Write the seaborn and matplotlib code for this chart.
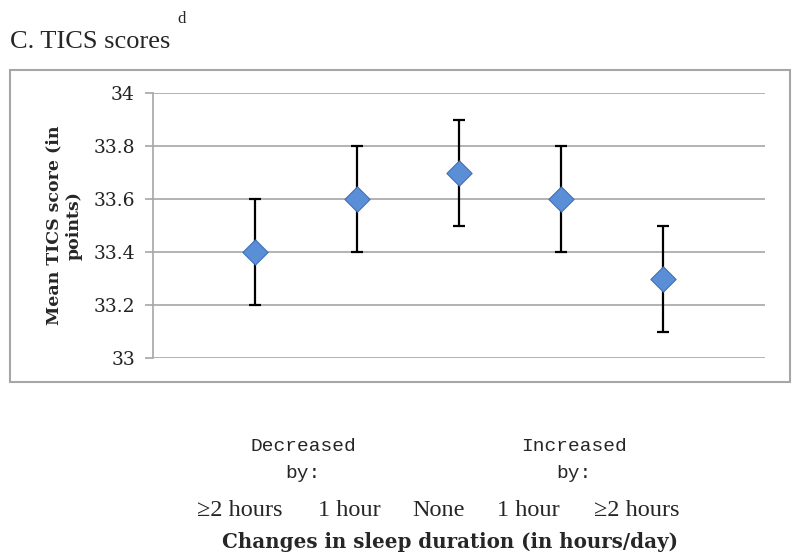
import matplotlib
matplotlib.use('Agg')
import matplotlib.pyplot as plt
import seaborn as sns
import pandas as pd
from matplotlib.patches import Rectangle

# data
groups = ['Decreased >=2h', 'Decreased 1h', 'None', 'Increased 1h', 'Increased >=2h']
mean_score = [33.4, 33.6, 33.7, 33.6, 33.3]
ci_low = [33.2, 33.4, 33.5, 33.4, 33.1]
ci_high = [33.6, 33.8, 33.9, 33.8, 33.5]
y_ticks = [33, 33.2, 33.4, 33.6, 33.8, 34]
y_tick_labels = ['33', '33.2', '33.4', '33.6', '33.8', '34']
cat_labels = ['\u22652 hours', '1 hour', 'None', '1 hour', '\u22652 hours']

df = pd.DataFrame({'group': groups, 'x': range(len(groups)), 'mean': mean_score,
                   'low': ci_low, 'high': ci_high})

sns.set_style('white')
plt.rcParams['font.family'] = ['DejaVu Serif']

fig = plt.figure(figsize=(8, 5.6), dpi=100)
ax = fig.add_axes([153/800, 1-358/560, 612/800, 265/560])

# outer chart frame
fig.patches.append(Rectangle((10/800, 1-382/560), 780/800, 312/560, transform=fig.transFigure,
                             fill=False, edgecolor='#a6a6a6', linewidth=1.5))

ax.errorbar(df['x'], df['mean'], yerr=[df['mean']-df['low'], df['high']-df['mean']],
            fmt='none', ecolor='black', elinewidth=1.6, capsize=4, capthick=1.6, zorder=2)
sns.scatterplot(data=df, x='x', y='mean', marker='D', s=165, color='#5a8fd8',
                edgecolor='#3d70b8', linewidth=0.8, ax=ax, zorder=3, legend=False)

ax.set_xlim(-1, 5)
ax.set_ylim(33, 34)
ax.set_yticks(y_ticks)
ax.set_yticklabels(y_tick_labels, fontsize=13.5, color='#222222')
ax.set_xticks([])
ax.set_xlabel('')
ax.set_ylabel('Mean TICS score (in\npoints)', fontsize=12.5, fontweight='bold', labelpad=8)
for y in y_ticks:
    ax.axhline(y, color='#a6a6a6', linewidth=1.2, zorder=1)
for s in ['top', 'right', 'bottom']:
    ax.spines[s].set_visible(False)
ax.spines['left'].set_color('#a6a6a6')
ax.spines['left'].set_linewidth(1.2)
ax.tick_params(axis='y', left=True, length=6, width=1.2, color='#a6a6a6', pad=7)

# title
fig.text(10/800, 1-48/560, 'C. TICS scores', fontsize=19, family='Liberation Serif', va='baseline')
fig.text(177/800, 1-23/560, 'd', fontsize=12, family='Liberation Serif', va='baseline')

# category text below the chart
fig.text(303/800, 1-460/560, 'Decreased\nby:', fontsize=14, family='Liberation Mono',
         ha='center', va='center', linespacing=1.75)
fig.text(574/800, 1-460/560, 'Increased\nby:', fontsize=14, family='Liberation Mono',
         ha='center', va='center', linespacing=1.75)
for xc, lab in zip([240, 349, 439, 528, 637], cat_labels):
    fig.text(xc/800, 1-511/560, lab, fontsize=17.5, family='Liberation Serif',
             ha='center', va='center')
fig.text(450/800, 1-542/560, 'Changes in sleep duration (in hours/day)', fontsize=14.3,
         family='DejaVu Serif', fontweight='bold', ha='center', va='center')

fig.savefig('out.png', dpi=100)
